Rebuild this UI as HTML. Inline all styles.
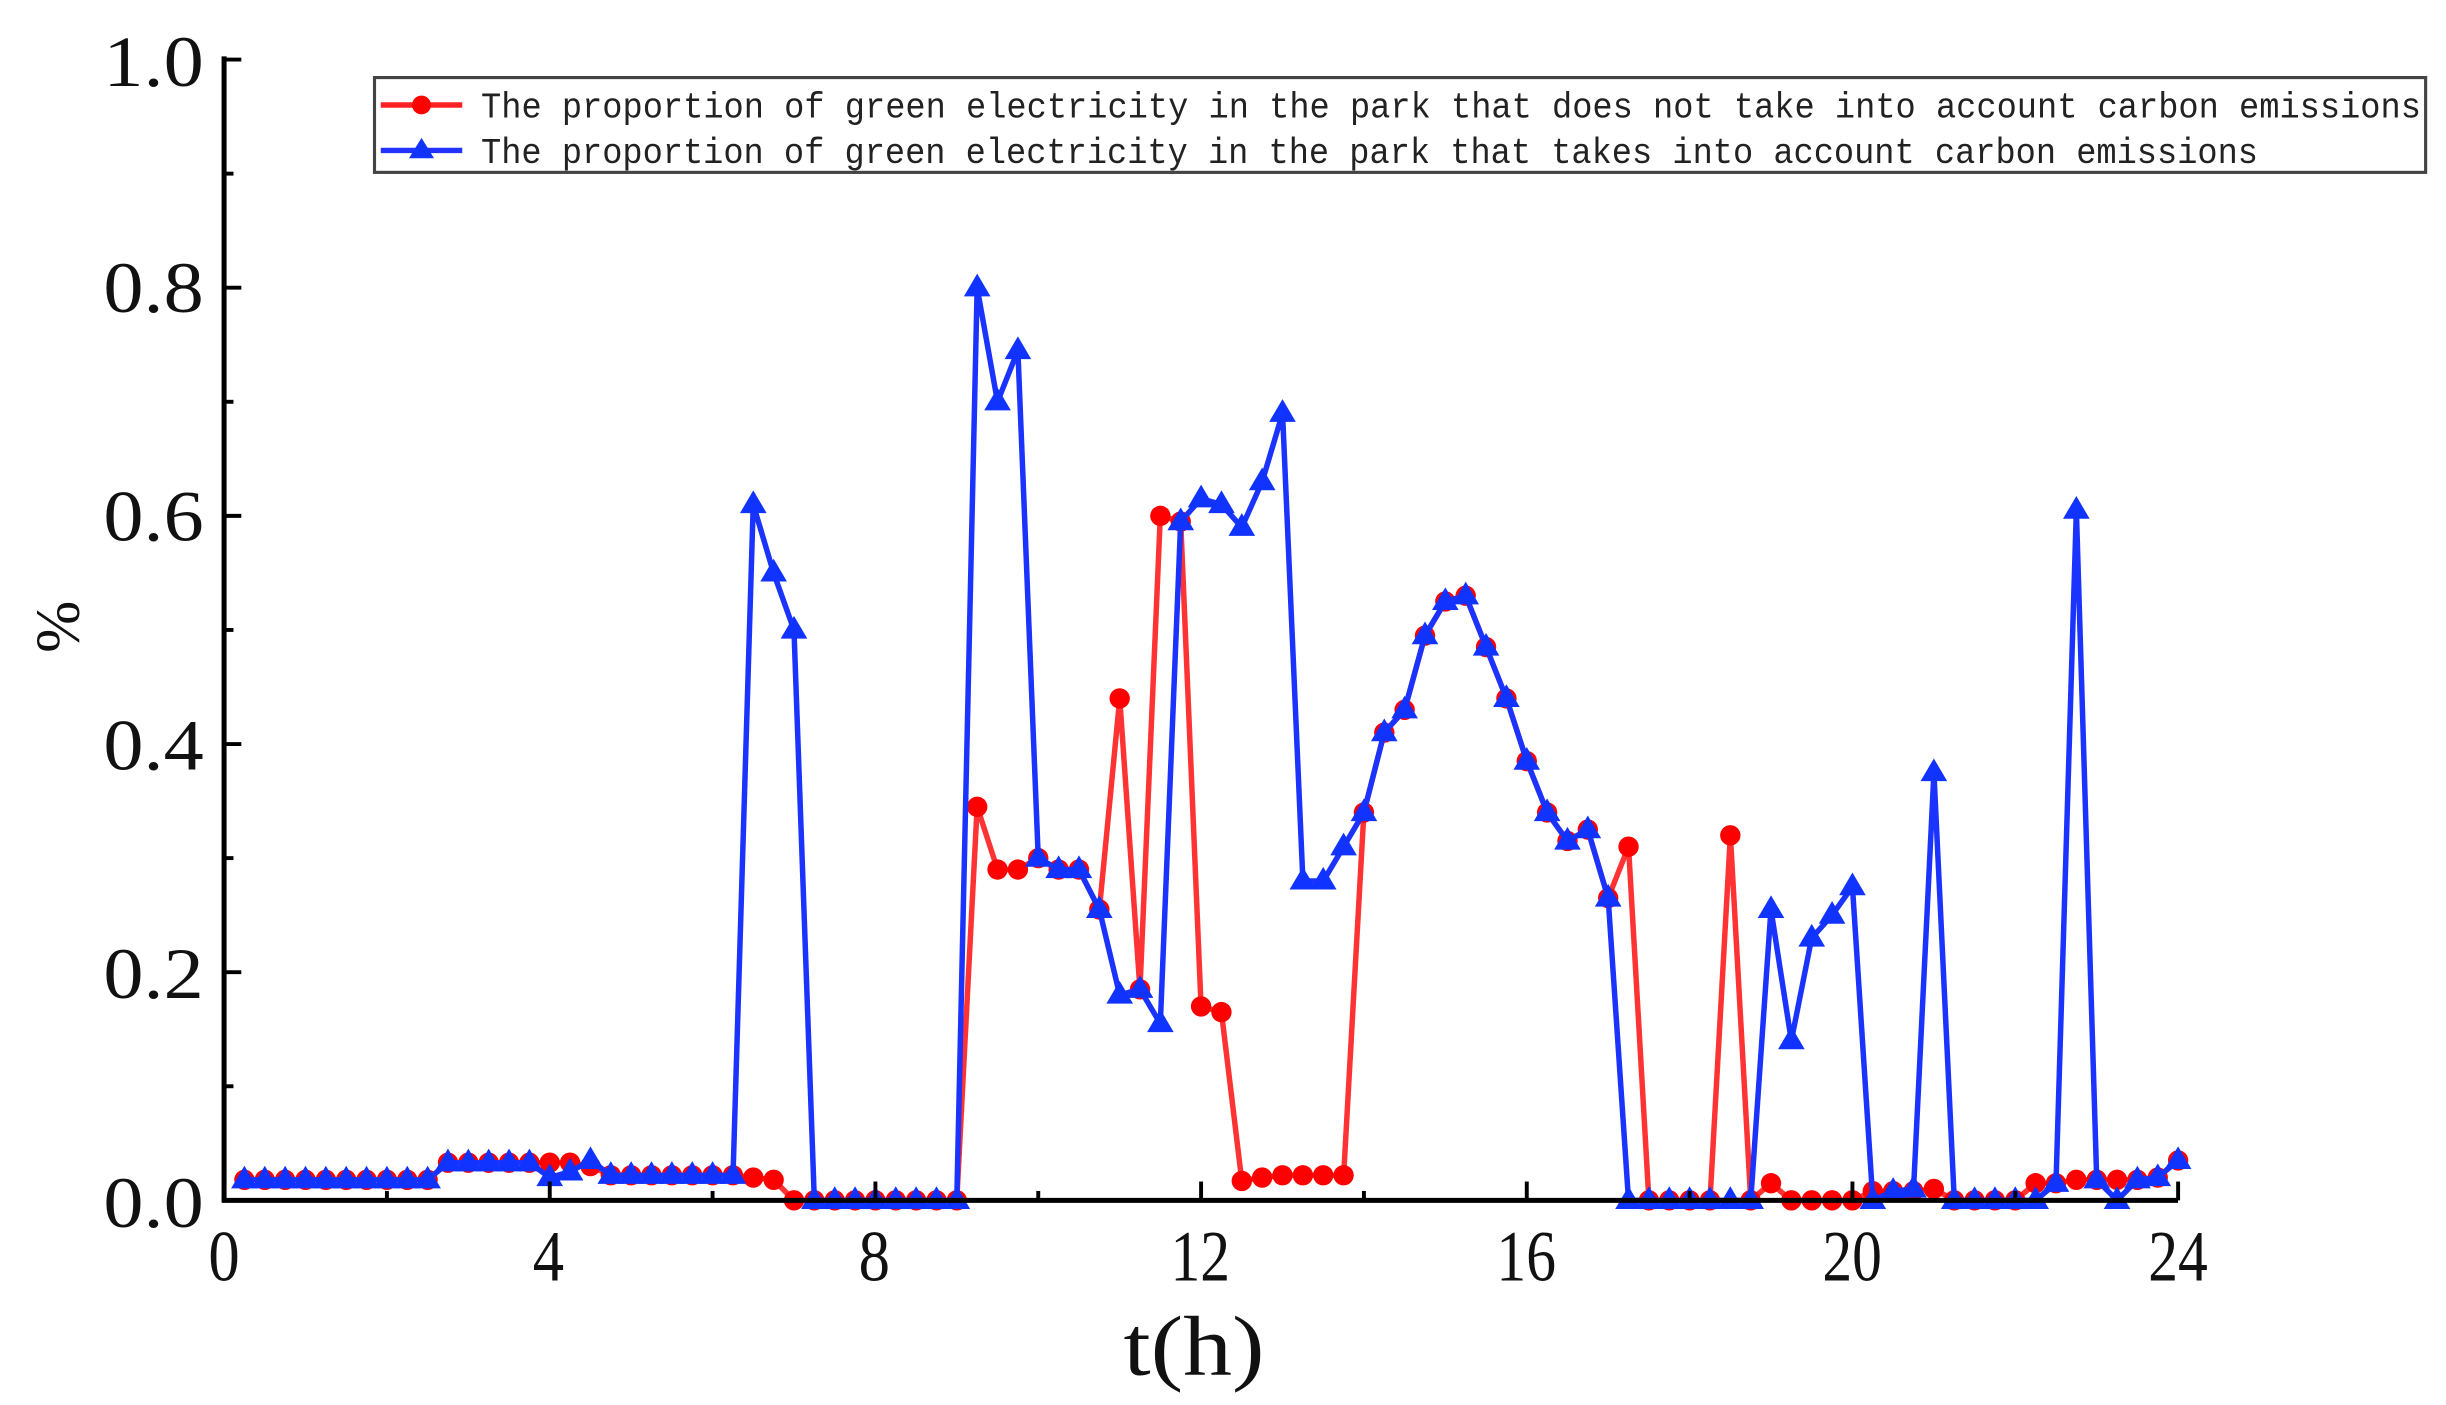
<!DOCTYPE html>
<html><head><meta charset="utf-8"><style>
html,body{margin:0;padding:0;background:#fff;}
svg{display:block;}
</style></head><body>
<svg id="c" xmlns="http://www.w3.org/2000/svg" width="2446" height="1405" viewBox="0 0 1561 896.6" preserveAspectRatio="none">
<rect width="1561" height="897" fill="#fff"/>
<g id="series"></g>
<g stroke="#000" stroke-width="3.2" fill="none">
<line x1="143" y1="36" x2="143" y2="767"/>
<line x1="141.5" y1="766" x2="1390" y2="766"/>
</g>
<g stroke="#000" stroke-width="2.5" id="ticks"></g>
<g font-family="Liberation Serif, serif" font-size="46" fill="#111" text-anchor="end">
<text x="130" y="55" textLength="64" lengthAdjust="spacingAndGlyphs">1.0</text>
<text x="130" y="199" textLength="64" lengthAdjust="spacingAndGlyphs">0.8</text>
<text x="130" y="345" textLength="64" lengthAdjust="spacingAndGlyphs">0.6</text>
<text x="130" y="491" textLength="64" lengthAdjust="spacingAndGlyphs">0.4</text>
<text x="130" y="637" textLength="64" lengthAdjust="spacingAndGlyphs">0.2</text>
<text x="130" y="783" textLength="64" lengthAdjust="spacingAndGlyphs">0.0</text>
</g>
<g font-family="Liberation Serif, serif" font-size="46" fill="#111" text-anchor="middle">
<text x="143" y="817" textLength="20" lengthAdjust="spacingAndGlyphs">0</text>
<text x="350" y="817" textLength="20" lengthAdjust="spacingAndGlyphs">4</text>
<text x="558" y="817" textLength="20" lengthAdjust="spacingAndGlyphs">8</text>
<text x="766" y="817" textLength="38" lengthAdjust="spacingAndGlyphs">12</text>
<text x="974" y="817" textLength="38" lengthAdjust="spacingAndGlyphs">16</text>
<text x="1182" y="817" textLength="38" lengthAdjust="spacingAndGlyphs">20</text>
<text x="1390" y="817" textLength="38" lengthAdjust="spacingAndGlyphs">24</text>
<text x="762" y="877" font-size="54" textLength="90" lengthAdjust="spacingAndGlyphs">t(h)</text>
<text transform="translate(50,400) rotate(-90)" font-size="40">%</text>
</g>
<rect x="239" y="49.5" width="1309" height="60.5" fill="#fff" stroke="#444" stroke-width="2"/>
<line x1="243" y1="67" x2="295" y2="67" stroke="#f22" stroke-width="3.5"/>
<circle cx="269" cy="67" r="6" fill="#f00"/>
<line x1="243" y1="96" x2="295" y2="96" stroke="#2233ff" stroke-width="3.5"/>
<polygon points="269,88 277,101 261,101" fill="#1133ff"/>
<g font-family="Liberation Mono, monospace" font-size="23" fill="#222">
<text x="307" y="75" textLength="1238" lengthAdjust="spacingAndGlyphs">The proportion of green electricity in the park that does not take into account carbon emissions</text>
<text x="307" y="104" textLength="1134" lengthAdjust="spacingAndGlyphs">The proportion of green electricity in the park that takes into account carbon emissions</text>
</g>
</svg>
<script>
var blue=[0.018,0.018,0.018,0.018,0.018,0.018,0.018,0.018,0.018,0.018,
0.033,0.033,0.033,0.033,0.033,0.02,0.025,0.035,0.022,0.022,
0.022,0.022,0.022,0.022,0.022,0.61,0.55,0.50,0,0,
0,0,0,0,0,0,0.80,0.70,0.745,0.30,
0.29,0.29,0.255,0.18,0.185,0.155,0.595,0.615,0.61,0.59,
0.63,0.69,0.28,0.28,0.31,0.34,0.41,0.43,0.495,0.525,
0.53,0.485,0.44,0.385,0.34,0.315,0.325,0.265,0,0,
0,0,0,0,0,0.255,0.14,0.23,0.25,0.275,
0,0.008,0.01,0.375,0,0,0,0,0,0.015,
0.605,0.018,0,0.018,0.02,0.035];
var red=[0.018,0.018,0.018,0.018,0.018,0.018,0.018,0.018,0.018,0.018,
0.033,0.033,0.033,0.033,0.033,0.033,0.033,0.03,0.022,0.022,
0.022,0.022,0.022,0.022,0.022,0.02,0.018,0,0,0,
0,0,0,0,0,0,0.345,0.29,0.29,0.30,
0.29,0.29,0.255,0.44,0.185,0.60,0.595,0.17,0.165,0.017,
0.02,0.022,0.022,0.022,0.022,0.34,0.41,0.43,0.495,0.525,
0.53,0.485,0.44,0.385,0.34,0.315,0.325,0.265,0.31,0,
0,0,0,0.32,0,0.015,0,0,0,0,
0.008,0.008,0.008,0.01,0,0,0,0,0.015,0.015,
0.018,0.018,0.018,0.018,0.02,0.035];
function X(k){return 143+(k+1)*0.25*51.96;}
function Y(v){return 766-v*728;}
var NS="http://www.w3.org/2000/svg";
var g=document.getElementById('series');
function el(n,a){var e=document.createElementNS(NS,n);for(var k in a)e.setAttribute(k,a[k]);g.appendChild(e);return e;}
function draw(d,col,mk){
 var p=d.map(function(v,i){return X(i).toFixed(1)+','+Y(v).toFixed(1);}).join(' ');
 el('polyline',{points:p,fill:'none',stroke:col,'stroke-width':3.5,'stroke-linejoin':'round'});
 d.forEach(function(v,i){var x=X(i),y=Y(v);
  if(mk=='c')el('circle',{cx:x,cy:y,r:6.5,fill:'#f00'});
  else el('polygon',{points:x+','+(y-9)+' '+(x+8.5)+','+(y+5.5)+' '+(x-8.5)+','+(y+5.5),fill:'#1133ff'});
 });
}
draw(red,'#f33','c');
draw(blue,'#1a33ff','t');
var t=document.getElementById('ticks');
function tl(a){var e=document.createElementNS(NS,'line');for(var k in a)e.setAttribute(k,a[k]);t.appendChild(e);}
for(var i=0;i<=10;i++){var y=766-i*72.8;tl({x1:143,y1:y,x2:i%2?149:154,y2:y});}
for(var h=0;h<=24;h+=2){var x=143+h*51.96;tl({x1:x,y1:766,x2:x,y2:h%4?760:754});}
</script>
</body></html>
